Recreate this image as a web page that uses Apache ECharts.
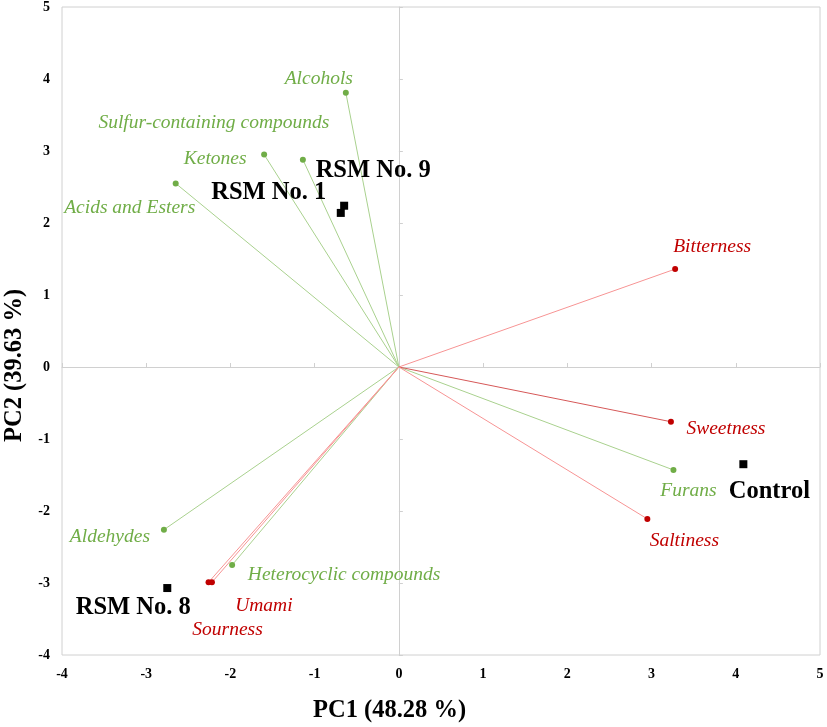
<!DOCTYPE html>
<html><head><meta charset="utf-8">
<script src="https://cdn.jsdelivr.net/npm/echarts@6/dist/echarts.min.js"></script>
<style>html,body{margin:0;padding:0;background:#fff}#c{width:827px;height:727px}</style>
</head><body><div id="c"></div>
<script>
// Loadings: name, PC1, PC2, group
const loadingNames = ['Alcohols','Sulfur-containing compounds','Ketones','Acids and Esters','Aldehydes','Heterocyclic compounds','Furans','Umami','Sourness','Bitterness','Sweetness','Saltiness'];
const loadingPC1  = [-0.63,-1.14,-1.60,-2.65,-2.79,-1.98,3.26,-2.22,-2.26,3.28,3.23,2.95];
const loadingPC2  = [3.81,2.88,2.95,2.55,-2.26,-2.75,-1.43,-2.99,-2.99,1.36,-0.76,-2.11];
const loadingGroup = ['g','g','g','g','g','g','g','r','r','r','r','r'];
// Samples (scores)
const sampleNames = ['RSM No. 9','RSM No. 1','RSM No. 8','Control'];
const samplePC1 = [-0.65,-0.69,-2.75,4.09];
const samplePC2 = [2.24,2.14,-3.07,-1.35];
// axis ticks
const xTicks = [-4,-3,-2,-1,0,1,2,3,4,5];
const yTicks = [-4,-3,-2,-1,0,1,2,3,4,5];

const labelOffsets = {
 'Alcohols':[-27,-14],'Sulfur-containing compounds':[-89,-37],'Ketones':[-49,4],'Acids and Esters':[-46,24],
 'Aldehydes':[-54,7],'Heterocyclic compounds':[112,10],'Umami':[52,24],'Sourness':[19,48],
 'Bitterness':[37,-22],'Sweetness':[55,7],'Furans':[15,21],'Saltiness':[37,22],
 'RSM No. 9':[29,-35],'RSM No. 1':[-72,-20],'RSM No. 8':[-34,20],'Control':[26,27]
};
const GREEN='#70AD47', RED='#C00000', GLINE='#A9D18E', RLINE='#F79494';
const serif = '"Liberation Serif","Times New Roman",serif';

const lineData = loadingNames.map((n,i)=>({
  coords:[[0,0],[loadingPC1[i],loadingPC2[i]]],
  lineStyle:{color: loadingGroup[i]==='g'?GLINE:(n==='Sweetness'?'#D65858':RLINE), width:1, opacity:1}
}));
const pointData = loadingNames.map((n,i)=>({
  name:n, value:[loadingPC1[i],loadingPC2[i]],
  itemStyle:{color: loadingGroup[i]==='g'?GREEN:RED, opacity:1},
  label:{show:true, formatter:n, position:'inside', offset:labelOffsets[n], align:'center', verticalAlign:'middle',
    fontFamily:serif, fontStyle:'italic', fontSize:19.5, color: loadingGroup[i]==='g'?GREEN:RED}
}));
const sampleData = sampleNames.map((n,i)=>({
  name:n, value:[samplePC1[i],samplePC2[i]],
  itemStyle:{color:'#000', opacity:1},
  label:{show:true, formatter:n, position:'inside', offset:labelOffsets[n], align:'center', verticalAlign:'middle',
    fontFamily:serif, fontWeight:'bold', fontSize:24.5, color:'#000'}
}));

const axisLabelStyle = {fontFamily:serif, fontWeight:'bold', fontSize:14, color:'#000'};
const chart = echarts.init(document.getElementById('c'));
chart.setOption({
  animation:false,
  grid:{left:62, top:5, right:7, bottom:72, show:true, borderColor:'#d0d0d0', borderWidth:1},
  xAxis:[
    {type:'value', min:xTicks[0], max:xTicks[xTicks.length-1], interval:1,
     axisLine:{show:true, onZero:true, lineStyle:{color:'#d0d0d0'}},
     axisTick:{show:true, inside:true, length:4, lineStyle:{color:'#d0d0d0'}},
     axisLabel:{show:false}, splitLine:{show:false}},
    {type:'value', position:'bottom', min:xTicks[0], max:xTicks[xTicks.length-1], interval:1,
     axisLine:{show:false, onZero:false}, axisTick:{show:false}, splitLine:{show:false},
     axisLabel:Object.assign({margin:12}, axisLabelStyle)}
  ],
  yAxis:[
    {type:'value', min:yTicks[0], max:yTicks[yTicks.length-1], interval:1,
     axisLine:{show:true, onZero:true, lineStyle:{color:'#d0d0d0'}},
     axisTick:{show:true, inside:true, length:4, lineStyle:{color:'#d0d0d0'}},
     axisLabel:{show:false}, splitLine:{show:false}},
    {type:'value', position:'left', min:yTicks[0], max:yTicks[yTicks.length-1], interval:1,
     axisLine:{show:false, onZero:false}, axisTick:{show:false}, splitLine:{show:false},
     axisLabel:Object.assign({margin:12}, axisLabelStyle)}
  ],
  graphic:[
    {type:'text', left:313, top:698, style:{text:'PC1 (48.28 %)', font:'bold 24.5px '+serif, fill:'#000'}},
    {type:'text', x:2, y:442, rotation:Math.PI/2, style:{text:'PC2 (39.63 %)', font:'bold 24.5px '+serif, fill:'#000'}}
  ],
  series:[
    {type:'lines', coordinateSystem:'cartesian2d', xAxisIndex:0, yAxisIndex:0, data:lineData, symbol:'none', silent:true, z:2},
    {type:'scatter', xAxisIndex:0, yAxisIndex:0, symbol:'circle', symbolSize:6, data:pointData, z:3},
    {type:'scatter', xAxisIndex:0, yAxisIndex:0, symbol:'rect', symbolSize:8, data:sampleData, z:4}
  ]
});
</script></body></html>
